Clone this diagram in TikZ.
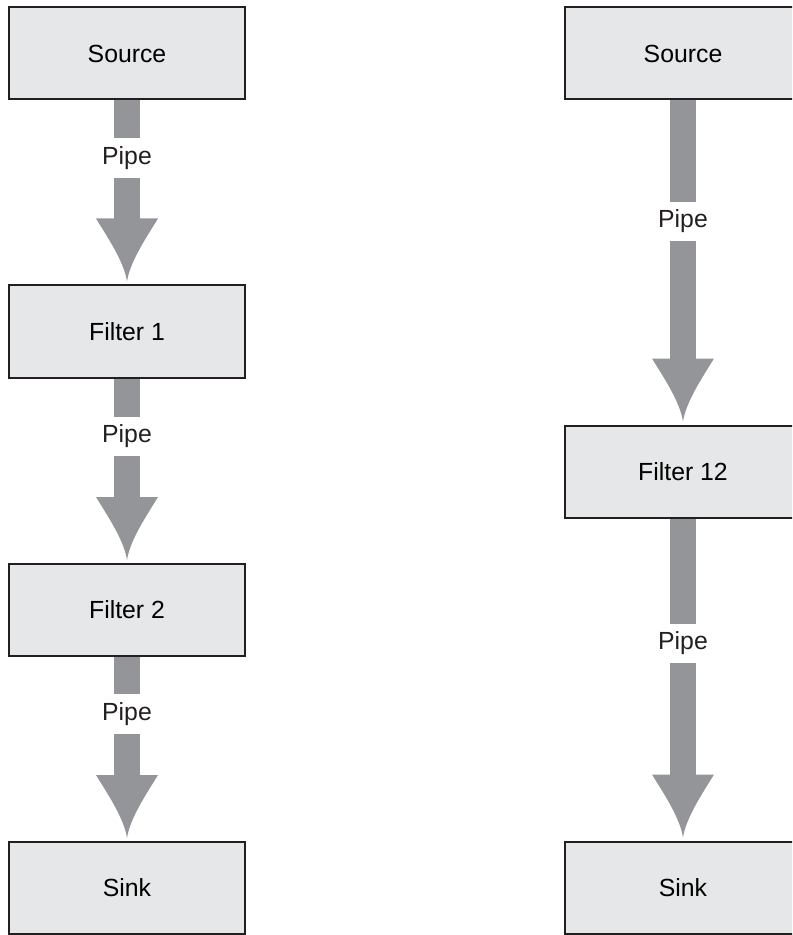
\documentclass[tikz,border=0pt]{standalone}
\usepackage{fontspec}
\setsansfont{Liberation Sans}
\usetikzlibrary{calc}
\definecolor{boxfill}{HTML}{E6E7E8}
\definecolor{boxline}{HTML}{231F20}
\definecolor{pipegray}{HTML}{939598}

\begin{document}
\begin{tikzpicture}[
  x=0.5pt, y=-0.5pt,
  font=\sffamily\fontsize{12.4}{15}\selectfont,
  stage/.style   = {draw=boxline, fill=boxfill, line width=1pt,
                    minimum width=118pt, minimum height=46pt, inner sep=0pt},
  pipe/.style    = {draw=pipegray, line width=13pt},
  pipelbl/.style = {inner sep=0pt, minimum height=19.5pt, text=boxline},
]
\useasboundingbox (0,0) rectangle (792,935);
\clip (0,0) rectangle (792,935);

% ---- one filter stage per pipe
\node[stage] (srcA)  at (127,53.5)  {Source};
\node[stage] (filt1) at (127,331.5) {Filter 1};
\node[stage] (filt2) at (127,610)   {Filter 2};
\node[stage] (sinkA) at (127,888)   {Sink};

\node[pipelbl] (pipe1) at (127,158)   {Pipe};
\node[pipelbl] (pipe2) at (127,436.5) {Pipe};
\node[pipelbl] (pipe3) at (127,714)   {Pipe};

% ---- a single combined filter
\node[stage] (srcB)   at (683,53.5)  {Source};
\node[stage] (filt12) at (683,471.5) {Filter 12};
\node[stage] (sinkB)  at (683,887.5) {Sink};

\node[pipelbl] (pipe4) at (683,221.5) {Pipe};
\node[pipelbl] (pipe5) at (683,643.5) {Pipe};

% ---- the pipes: shaft, label gap, shaft, flared head
\foreach \from/\lbl/\to in {srcA/pipe1/filt1, filt1/pipe2/filt2, filt2/pipe3/sinkA,
                            srcB/pipe4/filt12, filt12/pipe5/sinkB} {
  \draw[pipe] (\from.south) -- (\lbl.north);
  \draw[pipe] (\lbl.south) -- ($(\to.north)+(0,-65)$);
  \fill[pipegray, shift={($(\to.north)+(0,-3)$)}]
    (-31,-63) -- (31,-63) .. controls (20,-45) and (3,-20) .. (0,0)
    .. controls (-3,-20) and (-20,-45) .. (-31,-63) -- cycle;
}

\end{tikzpicture}
\end{document}
